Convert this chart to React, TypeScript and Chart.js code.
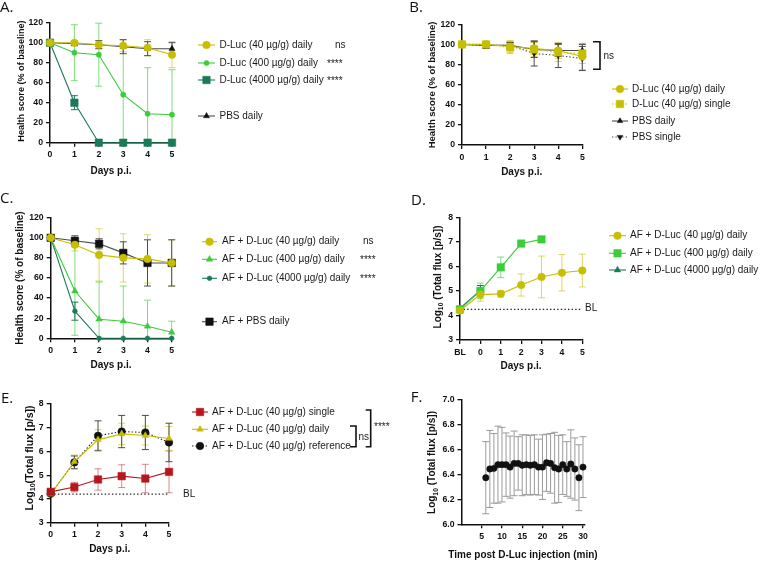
import React, { useEffect, useRef } from 'react';
import { Chart, registerables } from 'chart.js';
import { drawPoint } from 'chart.js/helpers';

Chart.register(...registerables);

const PAGE_W = 760;
const PAGE_H = 561;
const SANS = '"Liberation Sans", Arial, Helvetica, sans-serif';
const LABEL_FONT = '"Open Sans", "Noto Sans", sans-serif';

const YELLOW = '#c6be00';
const YELLOW_ERR = 'rgba(198,190,0,0.6)';
const GREEN = '#3ccc3c';
const GREEN_ERR = 'rgba(60,204,60,0.65)';
const DKGREEN = '#1c7a58';
const RED = '#b5171d';
const RED_ERR = 'rgba(181,23,29,0.5)';
const BLACK = '#111111';
const DARK = '#4d4d4d';
const GRAY_ERR = '#9b9b9b';

// ---------- shared text / ticks ----------
const X_DAYS = 'Days p.i.';
const Y_HEALTH = 'Health score (% of baseline)';
const X_TIME = 'Time post D-Luc injection (min)';
const DAYS = [0, 1, 2, 3, 4, 5];
const D_LABELS = ['BL', '0', '1', '2', '3', '4', '5'];
const F_X_TICKS = [5, 10, 15, 20, 25, 30];

// ---------- Panel A ----------
const A_NAMES = ['D-Luc (40 µg/g) daily', 'D-Luc (400 µg/g) daily', 'D-Luc (4000 µg/g) daily', 'PBS daily'];
const A_LUC40 = [100, 100, 98, 97, 95, 88];
const A_LUC40_ERR = [0, 2, 4, 6, 8, 13];
const A_LUC400 = [100, 90, 88, 48, 29, 28];
const A_LUC400_ERR = [0, 28, 31.5, 48, 46, 45];
const A_LUC4000 = [100, 40, 0, 0, 0, 0];
const A_LUC4000_ERR = [0, 7, 0, 0, 0, 0];
const A_PBS = [100, 99, 98, 96, 94, 94];
const A_PBS_ERR = [0, 2, 4, 7, 7, 6];

// ---------- Panel B ----------
const B_NAMES = ['D-Luc (40 µg/g) daily', 'D-Luc (40 µg/g) single', 'PBS daily', 'PBS single'];
const B_LUC_DAILY = [100, 100, 98, 96, 94, 88];
const B_LUC_DAILY_ERR = [0, 1, 6, 6, 8, 13];
const B_LUC_SINGLE = [100, 100, 97, 95, 92, 91];
const B_LUC_SINGLE_ERR = [0, 1, 6, 7, 9, 10];
const B_PBS_DAILY = [100, 99, 99, 95, 94, 94];
const B_PBS_DAILY_ERR = [0, 3, 3, 8, 6, 6];
const B_PBS_SINGLE = [100, 99, 99, 91, 89, 86];
const B_PBS_SINGLE_ERR = [0, 3, 3, 12.5, 12, 12];

// ---------- Panel C ----------
const C_NAMES = ['AF + D-Luc (40 µg/g) daily', 'AF + D-Luc (400 µg/g) daily', 'AF + D-Luc (4000 µg/g) daily', 'AF + PBS daily'];
const C_LUC40 = [100, 93, 83, 80, 79, 75];
const C_LUC40_ERR = [0, 6, 26, 24, 24, 23];
const C_LUC400 = [100, 47, 19, 17, 12, 6];
const C_LUC400_ERR = [0, 44, 37, 35, 26, 11];
const C_LUC4000 = [100, 27, 0, 0, 0, 0];
const C_LUC4000_ERR = [0, 9, 0, 0, 0, 0];
const C_PBS = [100, 97, 94, 85, 75, 75];
const C_PBS_ERR = [0, 5, 5, 11, 23, 23];

// ---------- Panel D ----------
const D_NAMES = ['AF + D-Luc (40 µg/g) daily', 'AF + D-Luc (400 µg/g) daily', 'AF + D-Luc (4000 µg/g) daily'];
const D_LUC40 = [4.2, 4.85, 4.88, 5.24, 5.57, 5.74, 5.83];
const D_LUC40_ERR = [0.08, 0.27, 0.13, 0.45, 0.85, 0.74, 0.67];
const D_LUC400 = [4.25, 5.0, 5.96, 6.93, 7.1, null, null];
const D_LUC400_ERR = [0.08, 0.32, 0.42, 0.07, 0.07, 0, 0];
const D_LUC4000 = [4.3, 5.02, null, null, null, null, null];
const D_LUC4000_ERR = [0.05, 0.2, 0, 0, 0, 0, 0];
const D_BASELINE = 4.25;

// ---------- Panel E ----------
const E_NAMES = ['AF + D-Luc (40 µg/g) single', 'AF + D-Luc (40 µg/g) daily', 'AF + D-Luc (40 µg/g) reference'];
const E_SINGLE = [4.3, 4.5, 4.82, 4.96, 4.86, 5.14];
const E_SINGLE_ERR = [0.05, 0.2, 0.45, 0.48, 0.6, 0.88];
const E_DAILY = [4.2, 5.57, 6.49, 6.74, 6.67, 6.55];
const E_DAILY_ERR = [0.05, 0.28, 0.43, 0.45, 0.4, 0.5];
const E_REFERENCE = [4.22, 5.54, 6.66, 6.84, 6.8, 6.38];
const E_REFERENCE_ERR = [0.05, 0.27, 0.63, 0.68, 0.72, 0.81];
const E_BASELINE = 4.2;

// ---------- Panel F ----------
const F_TIMES = [6, 7, 8, 9, 10, 11, 12, 13, 14, 15, 16, 17, 18, 19, 20, 21, 22, 23, 24, 25, 26, 27, 28, 29, 30];
const F_MEAN = [6.375, 6.445, 6.45, 6.48, 6.48, 6.48, 6.46, 6.49, 6.49, 6.475, 6.48, 6.475, 6.48, 6.46, 6.46, 6.495, 6.49, 6.455, 6.445, 6.48, 6.445, 6.485, 6.445, 6.375, 6.46];
const F_SD = [0.29, 0.31, 0.28, 0.31, 0.3, 0.255, 0.25, 0.26, 0.215, 0.245, 0.24, 0.24, 0.24, 0.225, 0.26, 0.23, 0.24, 0.285, 0.27, 0.24, 0.22, 0.275, 0.25, 0.265, 0.245];

// ---------- helpers ----------
const TICK_FONT = { family: SANS, size: 8.7, weight: 'bold' as const };
const Y_AXIS_W = 30;
const X_AXIS_H = 20;

type Area = { l: number; t: number; r: number; b: number };
type Seg = { text: string; sub?: boolean };
type Decor = {
  panel: { text: string; x: number; y: number };
  yTitle: { segs: Seg[]; x: number; y: number; size: number };
  xTitle: { text: string; x: number; y: number; size: number };
  legend?: { x1: number; x2: number; tx: number; ys: number[] };
  texts?: { text: string; x: number; y: number; size?: number }[];
  brackets?: { x: number; y1: number; y2: number; w: number }[];
};

type Style = {
  color: string;
  line?: string;
  dash?: number[];
  point: string;
  radius: number;
  rotation?: number;
  err?: string;
  showLine?: boolean;
};

function xy(xs: number[], ys: (number | null)[]) {
  return xs.map((x, i) => ({ x, y: ys[i] }));
}

function series(label: string, data: any[], errors: (number | null)[], s: Style) {
  return {
    label,
    data,
    errors,
    errorColor: s.err ?? s.color,
    borderColor: s.line ?? s.color,
    backgroundColor: s.color,
    borderDash: s.dash ?? [],
    borderWidth: 1.1,
    pointStyle: s.point,
    pointRadius: s.radius,
    pointHoverRadius: s.radius,
    pointRotation: s.rotation ?? 0,
    pointBackgroundColor: s.color,
    pointBorderColor: s.color,
    pointBorderWidth: 0.5,
    showLine: s.showLine ?? true,
    clip: false,
    spanGaps: false,
  };
}

function refLine(data: any[]) {
  return {
    label: '',
    noLegend: true,
    data,
    borderColor: '#222',
    borderDash: [1.4, 2.2],
    borderWidth: 1.2,
    pointRadius: 0,
    pointHoverRadius: 0,
    clip: false,
  };
}

const errorBarPlugin = {
  id: 'errbars',
  beforeDatasetsDraw(chart: any) {
    const ctx = chart.ctx;
    const ys = chart.scales.y;
    chart.data.datasets.forEach((ds: any, i: number) => {
      const errs = ds.errors;
      if (!errs) return;
      const meta = chart.getDatasetMeta(i);
      ctx.save();
      ctx.strokeStyle = ds.errorColor || ds.borderColor;
      ctx.lineWidth = ds.errorWidth ?? 1;
      const cw = ds.capWidth ?? 3.5;
      meta.data.forEach((pt: any, j: number) => {
        const raw = ds.data[j];
        const v = raw != null && typeof raw === 'object' ? raw.y : raw;
        const e = errs[j];
        if (v == null || !e) return;
        let hi = v + e;
        let lo = v - e;
        const capHi = hi <= ys.max;
        const capLo = lo >= ys.min;
        hi = Math.min(hi, ys.max);
        lo = Math.max(lo, ys.min);
        const x = pt.x;
        const yh = ys.getPixelForValue(hi);
        const yl = ys.getPixelForValue(lo);
        ctx.beginPath();
        ctx.moveTo(x, yh);
        ctx.lineTo(x, yl);
        if (capHi) {
          ctx.moveTo(x - cw, yh);
          ctx.lineTo(x + cw, yh);
        }
        if (capLo) {
          ctx.moveTo(x - cw, yl);
          ctx.lineTo(x + cw, yl);
        }
        ctx.stroke();
      });
      ctx.restore();
    });
  },
};

function drawRotated(ctx: CanvasRenderingContext2D, segs: Seg[], cx: number, cy: number, size: number) {
  ctx.save();
  ctx.translate(cx, cy);
  ctx.rotate(-Math.PI / 2);
  ctx.textBaseline = 'middle';
  ctx.textAlign = 'left';
  ctx.fillStyle = BLACK;
  const fontFor = (sub?: boolean) => `bold ${sub ? size * 0.68 : size}px ${SANS}`;
  let total = 0;
  for (const s of segs) {
    ctx.font = fontFor(s.sub);
    total += ctx.measureText(s.text).width;
  }
  let x = -total / 2;
  for (const s of segs) {
    ctx.font = fontFor(s.sub);
    ctx.fillText(s.text, x, s.sub ? size * 0.32 : 0);
    x += ctx.measureText(s.text).width;
  }
  ctx.restore();
}

function makeDecor(d: Decor) {
  return {
    id: 'decor',
    afterDraw(chart: any) {
      const ctx: CanvasRenderingContext2D = chart.ctx;
      ctx.save();
      ctx.fillStyle = BLACK;
      ctx.font = `15px ${LABEL_FONT}`;
      ctx.textAlign = 'left';
      ctx.textBaseline = 'alphabetic';
      ctx.fillText(d.panel.text, d.panel.x, d.panel.y);

      ctx.font = `bold ${d.xTitle.size}px ${SANS}`;
      ctx.textAlign = 'center';
      ctx.textBaseline = 'middle';
      ctx.fillText(d.xTitle.text, d.xTitle.x, d.xTitle.y);

      drawRotated(ctx, d.yTitle.segs, d.yTitle.x, d.yTitle.y, d.yTitle.size);

      if (d.legend) {
        const lg = d.legend;
        const items = chart.data.datasets.filter((ds: any) => !ds.noLegend);
        items.forEach((ds: any, k: number) => {
          const y = lg.ys[k];
          ctx.save();
          ctx.strokeStyle = ds.borderColor;
          ctx.lineWidth = 1.1;
          ctx.setLineDash(ds.borderDash || []);
          ctx.beginPath();
          ctx.moveTo(lg.x1, y);
          ctx.lineTo(lg.x2, y);
          ctx.stroke();
          ctx.setLineDash([]);
          ctx.fillStyle = ds.pointBackgroundColor;
          ctx.strokeStyle = ds.pointBorderColor;
          ctx.lineWidth = 0.5;
          drawPoint(ctx, { pointStyle: ds.pointStyle, radius: ds.pointRadius, rotation: ds.pointRotation || 0, borderWidth: 0.5 } as any, (lg.x1 + lg.x2) / 2, y);
          ctx.restore();
          ctx.fillStyle = '#1a1a1a';
          ctx.font = `10px ${SANS}`;
          ctx.textAlign = 'left';
          ctx.textBaseline = 'middle';
          ctx.fillText(ds.label, lg.tx, y);
        });
      }

      (d.texts || []).forEach((t) => {
        ctx.fillStyle = '#1a1a1a';
        ctx.font = `${t.size ?? 10}px ${SANS}`;
        ctx.textAlign = 'left';
        ctx.textBaseline = 'middle';
        ctx.fillText(t.text, t.x, t.y);
      });

      (d.brackets || []).forEach((b) => {
        ctx.strokeStyle = BLACK;
        ctx.lineWidth = 1.6;
        ctx.beginPath();
        ctx.moveTo(b.x - b.w, b.y1);
        ctx.lineTo(b.x, b.y1);
        ctx.lineTo(b.x, b.y2);
        ctx.lineTo(b.x - b.w, b.y2);
        ctx.stroke();
      });
      ctx.restore();
    },
  };
}

function baseScale(extra: any) {
  const { ticks, ...rest } = extra;
  return {
    border: { display: true, color: BLACK, width: 1.5 },
    grid: { drawOnChartArea: false, drawTicks: true, tickLength: 4, color: BLACK, lineWidth: 1.3 },
    ...rest,
    ticks: { color: BLACK, font: TICK_FONT, padding: 3, maxRotation: 0, autoSkip: false, ...(ticks || {}) },
  };
}

function buildChart(canvas: HTMLCanvasElement, area: Area, xScale: any, yScale: any, labels: string[] | null, datasets: any[], decor: Decor) {
  const data: any = { datasets };
  if (labels) data.labels = labels;
  return new Chart(canvas, {
    type: 'line',
    data,
    options: {
      animation: false,
      responsive: false,
      devicePixelRatio: 1,
      layout: {
        autoPadding: false,
        padding: { left: area.l - Y_AXIS_W, top: area.t, right: PAGE_W - area.r, bottom: PAGE_H - area.b - X_AXIS_H },
      },
      plugins: { legend: { display: false }, tooltip: { enabled: false } },
      scales: {
        x: baseScale({ ...xScale, afterFit: (s: any) => { s.height = X_AXIS_H; } }),
        y: baseScale({ ...yScale, afterFit: (s: any) => { s.width = Y_AXIS_W; } }),
      },
      elements: { line: { tension: 0 } },
    } as any,
    plugins: [errorBarPlugin as any, makeDecor(decor) as any],
  });
}

const DAY_X = { type: 'linear', min: 0, max: 5, ticks: { stepSize: 1 } };
const HEALTH_Y = { type: 'linear', min: 0, max: 120, ticks: { stepSize: 20 } };
const FLUX_Y = { type: 'linear', min: 3, max: 8, ticks: { stepSize: 1 } };
const LOG_SEGS = (space: boolean): Seg[] => [
  { text: 'Log' },
  { text: '10', sub: true },
  { text: (space ? ' ' : '') + '(Total flux [p/s])' },
];

const builders: ((c: HTMLCanvasElement) => Chart)[] = [
  // A
  (c) =>
    buildChart(c, { l: 50, t: 22.7, r: 172, b: 142.7 }, DAY_X, HEALTH_Y, null, [
      series(A_NAMES[0], xy(DAYS, A_LUC40), A_LUC40_ERR, { color: YELLOW, point: 'circle', radius: 3.8, err: YELLOW_ERR }),
      series(A_NAMES[1], xy(DAYS, A_LUC400), A_LUC400_ERR, { color: GREEN, point: 'circle', radius: 2.6, err: GREEN_ERR }),
      series(A_NAMES[2], xy(DAYS, A_LUC4000), A_LUC4000_ERR, { color: DKGREEN, point: 'rect', radius: 5.3 }),
      series(A_NAMES[3], xy(DAYS, A_PBS), A_PBS_ERR, { color: BLACK, line: DARK, point: 'triangle', radius: 3.5, err: DARK }),
    ], {
      panel: { text: 'A.', x: 0, y: 12 },
      yTitle: { segs: [{ text: Y_HEALTH }], x: 21.7, y: 81, size: 9.1 },
      xTitle: { text: X_DAYS, x: 111, y: 171, size: 10 },
      legend: { x1: 198, x2: 215, tx: 219.5, ys: [45, 63, 80, 116] },
      texts: [
        { text: 'ns', x: 335, y: 45 },
        { text: '****', x: 327, y: 64 },
        { text: '****', x: 327, y: 81 },
      ],
    }),
  // B
  (c) =>
    buildChart(c, { l: 462, t: 24.3, r: 582.3, b: 145 }, DAY_X, HEALTH_Y, null, [
      series(B_NAMES[0], xy(DAYS, B_LUC_DAILY), B_LUC_DAILY_ERR, { color: YELLOW, point: 'circle', radius: 3.8, err: YELLOW_ERR }),
      series(B_NAMES[1], xy(DAYS, B_LUC_SINGLE), B_LUC_SINGLE_ERR, { color: YELLOW, point: 'rect', radius: 5.3, dash: [1.4, 2], err: YELLOW_ERR }),
      series(B_NAMES[2], xy(DAYS, B_PBS_DAILY), B_PBS_DAILY_ERR, { color: BLACK, line: DARK, point: 'triangle', radius: 3.2, err: DARK }),
      series(B_NAMES[3], xy(DAYS, B_PBS_SINGLE), B_PBS_SINGLE_ERR, { color: BLACK, line: DARK, point: 'triangle', rotation: 180, radius: 3.2, dash: [1.4, 2], err: DARK }),
    ], {
      panel: { text: 'B.', x: 409.3, y: 12 },
      yTitle: { segs: [{ text: Y_HEALTH }], x: 432.7, y: 85, size: 9.5 },
      xTitle: { text: X_DAYS, x: 521.7, y: 172.7, size: 10 },
      legend: { x1: 612, x2: 628, tx: 632, ys: [89, 104, 121, 137] },
      brackets: [{ x: 600, y1: 41.7, y2: 69.3, w: 7 }],
      texts: [{ text: 'ns', x: 603.5, y: 56 }],
    }),
  // C
  (c) =>
    buildChart(c, { l: 50.7, t: 217.7, r: 171.7, b: 338.3 }, DAY_X, HEALTH_Y, null, [
      series(C_NAMES[0], xy(DAYS, C_LUC40), C_LUC40_ERR, { color: YELLOW, point: 'circle', radius: 3.8, err: YELLOW_ERR }),
      series(C_NAMES[1], xy(DAYS, C_LUC400), C_LUC400_ERR, { color: GREEN, point: 'triangle', radius: 3.8, err: GREEN_ERR }),
      series(C_NAMES[2], xy(DAYS, C_LUC4000), C_LUC4000_ERR, { color: DKGREEN, point: 'circle', radius: 2.4 }),
      series(C_NAMES[3], xy(DAYS, C_PBS), C_PBS_ERR, { color: BLACK, line: DARK, point: 'rect', radius: 5.3, err: DARK }),
    ], {
      panel: { text: 'C.', x: 0, y: 203.3 },
      yTitle: { segs: [{ text: Y_HEALTH }], x: 20.7, y: 278, size: 10 },
      xTitle: { text: X_DAYS, x: 111, y: 365, size: 10 },
      legend: { x1: 202, x2: 217, tx: 222, ys: [241.7, 259.3, 278.3, 321.7] },
      texts: [
        { text: 'ns', x: 363, y: 241.7 },
        { text: '****', x: 360, y: 260.3 },
        { text: '****', x: 360, y: 279.3 },
      ],
    }),
  // D
  (c) =>
    buildChart(c, { l: 460, t: 217.3, r: 582.3, b: 340 }, { type: 'category' }, FLUX_Y, D_LABELS, [
      series(D_NAMES[0], D_LUC40, D_LUC40_ERR, { color: YELLOW, point: 'circle', radius: 3.8, err: YELLOW_ERR }),
      series(D_NAMES[1], D_LUC400, D_LUC400_ERR, { color: GREEN, point: 'rect', radius: 5.3, err: GREEN_ERR }),
      series(D_NAMES[2], D_LUC4000, D_LUC4000_ERR, { color: DKGREEN, point: 'triangle', radius: 3.8 }),
      refLine(D_LABELS.map(() => D_BASELINE)),
    ], {
      panel: { text: 'D.', x: 411, y: 205 },
      yTitle: { segs: LOG_SEGS(true), x: 438.3, y: 277, size: 10 },
      xTitle: { text: X_DAYS, x: 521, y: 366.7, size: 10 },
      legend: { x1: 609, x2: 626, tx: 630, ys: [235.7, 253.3, 270] },
      texts: [{ text: 'BL', x: 585, y: 308 }],
    }),
  // E
  (c) =>
    buildChart(c, { l: 50.7, t: 404, r: 169, b: 522.7 }, DAY_X, FLUX_Y, null, [
      series(E_NAMES[0], xy(DAYS, E_SINGLE), E_SINGLE_ERR, { color: RED, point: 'rect', radius: 5.3, err: RED_ERR }),
      series(E_NAMES[1], xy(DAYS, E_DAILY), E_DAILY_ERR, { color: YELLOW, point: 'triangle', radius: 3.8, err: YELLOW_ERR }),
      series(E_NAMES[2], xy(DAYS, E_REFERENCE), E_REFERENCE_ERR, { color: BLACK, line: '#222', point: 'circle', radius: 3.8, dash: [1.4, 2], err: DARK }),
      refLine(DAYS.map((d) => ({ x: d, y: E_BASELINE }))),
    ], {
      panel: { text: 'E.', x: 1, y: 403.3 },
      yTitle: { segs: LOG_SEGS(false), x: 30, y: 458, size: 10.5 },
      xTitle: { text: X_DAYS, x: 109.7, y: 549.3, size: 10 },
      legend: { x1: 192, x2: 208, tx: 212, ys: [412, 429.3, 446] },
      brackets: [
        { x: 356, y1: 426, y2: 446.7, w: 6 },
        { x: 370.7, y1: 410, y2: 446.7, w: 5 },
      ],
      texts: [
        { text: 'ns', x: 358.5, y: 437 },
        { text: '****', x: 374, y: 427 },
        { text: 'BL', x: 183, y: 494 },
      ],
    }),
  // F
  (c) =>
    buildChart(
      c,
      { l: 461.5, t: 400, r: 585, b: 524.3 },
      {
        type: 'linear',
        min: 0,
        max: 30.5,
        afterBuildTicks: (s: any) => { s.ticks = F_X_TICKS.map((v) => ({ value: v })); },
      },
      {
        type: 'linear',
        min: 6,
        max: 7,
        ticks: { stepSize: 0.2, callback: (v: any) => Number(v).toFixed(1) },
      },
      null,
      [series('', xy(F_TIMES, F_MEAN), F_SD, { color: BLACK, point: 'circle', radius: 3.2, err: GRAY_ERR, showLine: false })],
      {
        panel: { text: 'F.', x: 410.7, y: 401.7 },
        yTitle: { segs: LOG_SEGS(true), x: 432.7, y: 462.5, size: 10 },
        xTitle: { text: X_TIME, x: 523, y: 555, size: 10 },
      }
    ),
];

function ChartCanvas({ build }: { build: (c: HTMLCanvasElement) => Chart }) {
  const ref = useRef<HTMLCanvasElement>(null);
  useEffect(() => {
    const chart = build(ref.current as HTMLCanvasElement);
    return () => chart.destroy();
  }, [build]);
  return (
    <canvas
      ref={ref}
      width={PAGE_W}
      height={PAGE_H}
      style={{ position: 'absolute', left: 0, top: 0, width: PAGE_W, height: PAGE_H }}
    />
  );
}

export default function App() {
  return (
    <div style={{ position: 'fixed', left: 0, top: 0, width: PAGE_W, height: PAGE_H, background: '#ffffff', overflow: 'hidden' }}>
      {builders.map((b, i) => (
        <ChartCanvas key={i} build={b} />
      ))}
    </div>
  );
}
